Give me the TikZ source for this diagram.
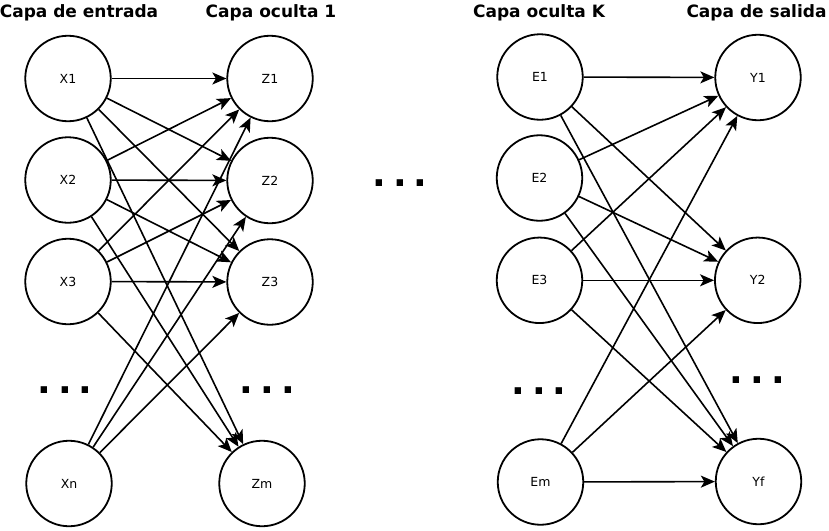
\documentclass[tikz,border=0pt]{standalone}
\usepackage{fontspec}
\setmainfont{DejaVu Sans}
\usetikzlibrary{arrows.meta}
\tikzset{
  neuron/.style={circle, draw, line width=1.8pt, minimum size=85.5pt, inner sep=0pt, font=\fontsize{12.5}{13}\selectfont},
  title/.style={font=\fontsize{17}{18}\selectfont\bfseries, anchor=base, inner sep=0pt},
  dotsnode/.style={font=\fontsize{36}{36}\selectfont\bfseries, inner sep=0pt},
  conn/.style={line width=1.6pt, -{Stealth[length=14pt, width=12pt, inset=3.5pt]}}
}
\newcommand{\mydots}{.\hspace{7pt}.\hspace{7pt}.}
\begin{document}
\begin{tikzpicture}[x=1pt, y=-1pt]
\useasboundingbox (0,0) rectangle (829,530);
% titles
\node[title] (t1) at (79,17) {Capa de entrada};
\node[title] (t2) at (271,17) {Capa oculta 1};
\node[title] (t3) at (539,17) {Capa oculta K};
\node[title] (t4) at (756.5,17) {Capa de salida};
% input layer
\node[neuron] (X1) at (68,78.5) {X1};
\node[neuron] (X2) at (68,180) {X2};
\node[neuron] (X3) at (68,281.5) {X3};
\node[neuron] (Xn) at (69,483.5) {Xn};
% hidden 1
\node[neuron] (Z1) at (270,78.5) {Z1};
\node[neuron] (Z2) at (270,180.5) {Z2};
\node[neuron] (Z3) at (270,282) {Z3};
\node[neuron] (Zm) at (262,483.5) {Zm};
% hidden K
\node[neuron] (E1) at (540,77) {E1};
\node[neuron] (E2) at (539.5,178) {E2};
\node[neuron] (E3) at (539.5,280.3) {E3};
\node[neuron] (Em) at (540.5,482) {Em};
% output
\node[neuron] (Y1) at (758,77.5) {Y1};
\node[neuron] (Y2) at (757.7,280.3) {Y2};
\node[neuron] (Yf) at (758.5,481.5) {Yf};
% dots
\node[dotsnode] (d0) at (400,183) {\mydots};
\node[dotsnode] (d1) at (65,390) {\mydots};
\node[dotsnode] (d2) at (267.5,390) {\mydots};
\node[dotsnode] (d3) at (539,391.5) {\mydots};
\node[dotsnode] (d4) at (757.5,380.5) {\mydots};
% connections X -> Z
\foreach \s in {X1,X2,X3}{
  \foreach \t in {Z1,Z2,Z3,Zm}{
    \draw[conn] (\s) -- (\t);
  }
}
\foreach \t in {Z1,Z2,Z3}{
  \draw[conn] (Xn) -- (\t);
}
% connections E -> Y
\foreach \s in {E1,E2,E3,Em}{
  \foreach \t in {Y1,Y2,Yf}{
    \draw[conn] (\s) -- (\t);
  }
}
\end{tikzpicture}
\end{document}
